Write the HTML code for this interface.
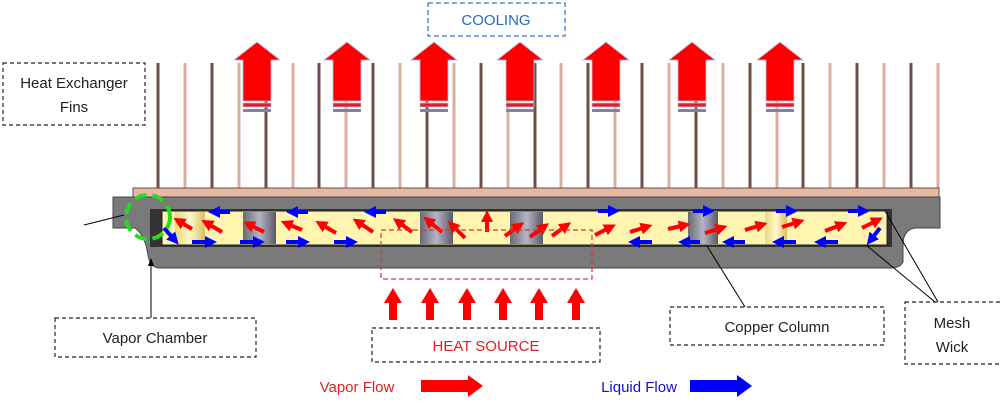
<!DOCTYPE html>
<html><head><style>
body{margin:0;background:#fff;}
svg{display:block;font-family:"Liberation Sans",sans-serif;}
</style></head><body>
<svg width="1000" height="410" viewBox="0 0 1000 410" xmlns="http://www.w3.org/2000/svg">
<defs>
<linearGradient id="col" x1="0" x2="1"><stop offset="0" stop-color="#6a6a74"/><stop offset=".5" stop-color="#b4b4c4"/><stop offset="1" stop-color="#5a5a66"/></linearGradient>
<linearGradient id="ycol" x1="0" x2="1"><stop offset="0" stop-color="#e8d880"/><stop offset=".5" stop-color="#fff8c8"/><stop offset="1" stop-color="#d8c060"/></linearGradient>
<marker id="mr" markerWidth="3" markerHeight="3" refX="0.5" refY="1.5" orient="auto" markerUnits="strokeWidth"><polygon points="0,0 3,1.5 0,3" fill="#f00"/></marker>
<marker id="mb" markerWidth="3" markerHeight="3" refX="0.5" refY="1.5" orient="auto" markerUnits="strokeWidth"><polygon points="0,0 3,1.5 0,3" fill="#00f"/></marker>
<g id="bigarrow">
<polygon points="-23,18 0,0 23,18 14,18 14,59 -14,59 -14,18" fill="#f00" stroke="#b0c0e0" stroke-width="0.8"/>
<rect x="-14" y="61" width="28" height="4" fill="#e02020" stroke="#b0c0e0" stroke-width="0.8"/>
<rect x="-14" y="67" width="28" height="3" fill="#8080b0"/>
</g>
</defs>
<!-- fins -->
<g stroke-width="3">
<line x1="158" y1="63" x2="158" y2="190" stroke="#6a5048"/><line x1="185" y1="63" x2="185" y2="190" stroke="#d8b0a0"/>
<line x1="212" y1="63" x2="212" y2="190" stroke="#6a5048"/><line x1="239" y1="63" x2="239" y2="190" stroke="#d8b0a0"/>
<line x1="266" y1="63" x2="266" y2="190" stroke="#6a5048"/><line x1="293" y1="63" x2="293" y2="190" stroke="#d8b0a0"/>
<line x1="319" y1="63" x2="319" y2="190" stroke="#6a5048"/><line x1="346" y1="63" x2="346" y2="190" stroke="#d8b0a0"/>
<line x1="373" y1="63" x2="373" y2="190" stroke="#6a5048"/><line x1="400" y1="63" x2="400" y2="190" stroke="#d8b0a0"/>
<line x1="427" y1="63" x2="427" y2="190" stroke="#6a5048"/><line x1="454" y1="63" x2="454" y2="190" stroke="#d8b0a0"/>
<line x1="481" y1="63" x2="481" y2="190" stroke="#6a5048"/><line x1="508" y1="63" x2="508" y2="190" stroke="#d8b0a0"/>
<line x1="535" y1="63" x2="535" y2="190" stroke="#6a5048"/><line x1="561" y1="63" x2="561" y2="190" stroke="#d8b0a0"/>
<line x1="588" y1="63" x2="588" y2="190" stroke="#6a5048"/><line x1="615" y1="63" x2="615" y2="190" stroke="#d8b0a0"/>
<line x1="642" y1="63" x2="642" y2="190" stroke="#6a5048"/><line x1="669" y1="63" x2="669" y2="190" stroke="#d8b0a0"/>
<line x1="696" y1="63" x2="696" y2="190" stroke="#6a5048"/><line x1="723" y1="63" x2="723" y2="190" stroke="#d8b0a0"/>
<line x1="750" y1="63" x2="750" y2="190" stroke="#6a5048"/><line x1="777" y1="63" x2="777" y2="190" stroke="#d8b0a0"/>
<line x1="803" y1="63" x2="803" y2="190" stroke="#6a5048"/><line x1="830" y1="63" x2="830" y2="190" stroke="#d8b0a0"/>
<line x1="857" y1="63" x2="857" y2="190" stroke="#6a5048"/><line x1="884" y1="63" x2="884" y2="190" stroke="#d8b0a0"/>
<line x1="911" y1="63" x2="911" y2="190" stroke="#6a5048"/><line x1="938" y1="63" x2="938" y2="190" stroke="#d8b0a0"/>
</g>
<rect x="133" y="188" width="806" height="9" fill="#e8b8a4" stroke="#6a5048" stroke-width="1"/>
<path d="M113 197 H940 V228 H915 Q903 230 903 245 V262 Q900 268 890 268 H160 Q150 268 148 255 Q145 235 135 228 H113 Z" fill="#7a7a7a" stroke="#444" stroke-width="1"/>
<rect x="150" y="209" width="742" height="38" fill="#333"/>
<rect x="162" y="211" width="725" height="34" fill="#fff4b0" stroke="#222" stroke-width="1"/>
<rect x="243" y="212" width="33" height="32" fill="url(#col)"/>
<rect x="420" y="212" width="33" height="32" fill="url(#col)"/>
<rect x="510" y="212" width="33" height="32" fill="url(#col)"/>
<rect x="688" y="212" width="30" height="32" fill="url(#col)"/>
<rect x="765" y="212" width="22" height="32" fill="url(#ycol)"/>
<rect x="175" y="212" width="30" height="32" fill="url(#ycol)"/>
<g stroke="#f00" stroke-width="4" marker-end="url(#mr)">
<line x1="192" y1="229" x2="182" y2="223"/><line x1="222" y1="232" x2="210" y2="225"/><line x1="264" y1="232" x2="252" y2="226"/>
<line x1="302" y1="230" x2="290" y2="225"/><line x1="336" y1="233" x2="324" y2="226"/><line x1="373" y1="232" x2="361" y2="224"/>
<line x1="412" y1="232" x2="401" y2="224"/><line x1="442" y1="232" x2="431" y2="223"/><line x1="465" y1="238" x2="455" y2="228"/>
<line x1="487" y1="232" x2="487" y2="220"/><line x1="505" y1="236" x2="516" y2="228"/><line x1="530" y1="237" x2="541" y2="229"/>
<line x1="552" y1="236" x2="563" y2="228"/><line x1="595" y1="235" x2="607" y2="229"/><line x1="630" y1="232" x2="643" y2="228"/>
<line x1="668" y1="229" x2="681" y2="226"/><line x1="705" y1="233" x2="718" y2="229"/><line x1="745" y1="230" x2="758" y2="226"/>
<line x1="782" y1="227" x2="795" y2="223"/><line x1="825" y1="231" x2="838" y2="226"/><line x1="862" y1="228" x2="874" y2="222"/>
</g>
<g stroke="#00f" stroke-width="4" marker-end="url(#mb)">
<line x1="230" y1="212" x2="218" y2="212"/><line x1="308" y1="212" x2="296" y2="212"/><line x1="386" y1="212" x2="374" y2="212"/>
<line x1="598" y1="211" x2="610" y2="211"/><line x1="693" y1="211" x2="705" y2="211"/><line x1="776" y1="211" x2="788" y2="211"/><line x1="848" y1="211" x2="860" y2="211"/>
<line x1="192" y1="242" x2="207" y2="242"/><line x1="240" y1="242" x2="255" y2="242"/><line x1="286" y1="242" x2="300" y2="242"/><line x1="334" y1="242" x2="348" y2="242"/>
<line x1="652" y1="242" x2="638" y2="242"/><line x1="700" y1="242" x2="688" y2="242"/><line x1="745" y1="242" x2="732" y2="242"/><line x1="796" y1="242" x2="782" y2="242"/><line x1="838" y1="242" x2="824" y2="242"/>
<line x1="164" y1="228" x2="172" y2="237"/><line x1="880" y1="228" x2="873" y2="237"/>
</g>
<circle cx="148" cy="217" r="22" fill="none" stroke="#22dd22" stroke-width="4" stroke-dasharray="12,6"/>
<rect x="381" y="230" width="211" height="49" fill="none" stroke="#e03030" stroke-width="1.2" stroke-dasharray="5,3"/>
<use href="#bigarrow" transform="translate(257,42)"/>
<use href="#bigarrow" transform="translate(347,42)"/>
<use href="#bigarrow" transform="translate(434,42)"/>
<use href="#bigarrow" transform="translate(520,42)"/>
<use href="#bigarrow" transform="translate(606,42)"/>
<use href="#bigarrow" transform="translate(692,42)"/>
<use href="#bigarrow" transform="translate(780,42)"/>
<g fill="#f00">
<polygon points="384,303 393,288 402,303 397,303 397,320 389,320 389,303"/>
<polygon points="421,303 430,288 439,303 434,303 434,320 426,320 426,303"/>
<polygon points="458,303 467,288 476,303 471,303 471,320 463,320 463,303"/>
<polygon points="494,303 503,288 512,303 507,303 507,320 499,320 499,303"/>
<polygon points="530,303 539,288 548,303 543,303 543,320 535,320 535,303"/>
<polygon points="567,303 576,288 585,303 580,303 580,320 572,320 572,303"/>
</g>
<g stroke="#000" stroke-width="1" fill="none">
<path d="M84 225 L124 215"/><path d="M151 318 L151 262"/>
<path d="M745 307 L707 246"/><path d="M935 302 L866 245"/><path d="M938 302 L885 211"/>
</g>
<polygon points="148,266 151,258 154,266" fill="#000"/>
<g fill="#fff" stroke="#222" stroke-width="1.2" stroke-dasharray="4,3">
<rect x="3" y="63" width="142" height="62"/>
<rect x="55" y="318" width="201" height="39"/>
<rect x="372" y="328" width="228" height="34"/>
<rect x="670" y="307" width="214" height="38"/>
<rect x="905" y="302" width="100" height="62"/>
</g>
<rect x="428" y="3" width="137" height="33" fill="#fff" stroke="#3a7ac0" stroke-width="1.3" stroke-dasharray="5,3"/>
<g font-size="15" text-anchor="middle" fill="#222">
<text x="74" y="88">Heat Exchanger</text><text x="74" y="112">Fins</text>
<text x="155" y="343">Vapor Chamber</text>
<text x="777" y="332">Copper Column</text>
<text x="952" y="328">Mesh</text><text x="952" y="352">Wick</text>
<text x="486" y="351" fill="#e02020">HEAT SOURCE</text>
<text x="496" y="25" fill="#2a6ac0">COOLING</text>
<text x="357" y="392" fill="#e02020">Vapor Flow</text>
<text x="639" y="392" fill="#1010d0">Liquid Flow</text>
</g>
<polygon points="421,380 468,380 468,375 483,386 468,397 468,392 421,392" fill="#f00"/>
<polygon points="690,380 737,380 737,375 752,386 737,397 737,392 690,392" fill="#00f"/>
</svg>
</body></html>
